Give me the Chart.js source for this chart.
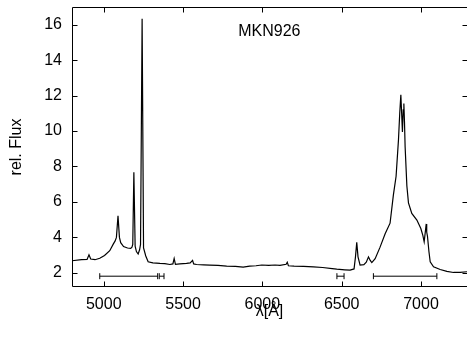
<!DOCTYPE html>
<html>
<head>
<meta charset="utf-8">
<script src="https://cdn.jsdelivr.net/npm/chart.js@4"></script>
<style>
  html, body { margin: 0; padding: 0; background: #fff; overflow: hidden; }
  canvas { display: block; }
</style>
</head>
<body>
<canvas id="spectrum" width="467" height="338"></canvas>
<script>
// MKN926 spectrum

const wavelength = [4800, 4860, 4895, 4907, 4918, 4945, 4975, 5005, 5038, 5060, 5072, 5080, 5090, 5099, 5107,
    5125, 5150, 5170, 5178, 5183, 5190, 5198, 5206, 5217, 5226, 5232, 5242, 5251, 5265, 5280,
    5310, 5354, 5385, 5417, 5436, 5444, 5452, 5480, 5522, 5545, 5560, 5567, 5585, 5630, 5669, 5720, 5775, 5830,
    5879, 5920, 5960, 5996, 6040, 6080, 6111, 6150, 6157, 6164, 6200, 6260, 6322, 6380, 6440, 6469, 6520, 6553,
    6578, 6587, 6595, 6603, 6616, 6640, 6655, 6669, 6680, 6690, 6711, 6742, 6774, 6805, 6826, 6843, 6858, 6866,
    6873, 6878, 6883, 6888, 6892, 6896, 6900, 6911, 6921, 6942, 6974, 6999, 7012, 7020, 7033, 7036, 7041, 7050,
    7058, 7079, 7121, 7163, 7205, 7247, 7290];
const relFlux = [2.68, 2.74, 2.76, 3.02, 2.78, 2.74, 2.82, 2.98, 3.25, 3.62, 3.80, 4.0, 5.22, 4.0, 3.70,
    3.48, 3.40, 3.38, 3.45, 3.6, 7.68, 3.5, 3.2, 3.06, 3.3, 3.6, 16.34, 3.4, 2.95, 2.62,
    2.56, 2.53, 2.52, 2.47, 2.50, 2.81, 2.48, 2.50, 2.53, 2.56, 2.70, 2.50, 2.47, 2.45, 2.44, 2.42, 2.38, 2.36,
    2.32, 2.38, 2.40, 2.44, 2.42, 2.44, 2.42, 2.48, 2.60, 2.40, 2.38, 2.36, 2.34, 2.30, 2.24, 2.21, 2.17, 2.15,
    2.22, 2.9, 3.72, 2.9, 2.44, 2.46, 2.6, 2.90, 2.7, 2.58, 2.80, 3.45, 4.20, 4.80, 6.40, 7.45, 9.5, 11.0,
    12.05, 11.0, 9.95, 11.2, 11.55, 10.5, 9.1, 6.9, 5.95, 5.35, 4.98, 4.50, 4.1, 3.75, 4.76, 4.3, 4.05, 3.2,
    2.62, 2.34, 2.19, 2.08, 2.02, 2.02, 2.06];

// fitting windows drawn as horizontal bars
const rangeStart = [4975, 5350, 6470, 6700];
const rangeEnd = [5340, 5380, 6515, 7100];
const rangeLevel = 1.81;

const xTicks = [5000, 5500, 6000, 6500, 7000];
const yTicks = [2, 4, 6, 8, 10, 12, 14, 16];
const objectName = 'MKN926';
const namePos = { x: 5848, y: 15.6 };

const FONT = '"Liberation Sans", Arial, Helvetica, sans-serif';

const spectrumPoints = wavelength.map((w, i) => ({ x: w, y: relFlux[i] }));
const rangePoints = [];
rangeStart.forEach((s, i) => {
    rangePoints.push({ x: s, y: rangeLevel }, { x: rangeEnd[i], y: rangeLevel }, { x: rangeEnd[i] + 1, y: null });
});

// no extra room for labels, the plot box is fixed
function noPadding(s) {
    s.paddingTop = 0; s.paddingBottom = 0; s.paddingLeft = 0; s.paddingRight = 0;
}

// gnuplot-like frame with inward ticks and the object label
const framePlugin = {
    id: 'frame',
    afterDraw(chart) {
        const { ctx, chartArea: a, scales: { x, y } } = chart;
        const L = Math.round(a.left) + 0.5, T = Math.round(a.top) + 0.5;
        const B = Math.round(a.bottom) - 0.5, R = Math.round(a.right) - 0.5;
        const tick = 5;
        ctx.save();
        ctx.strokeStyle = '#000';
        ctx.lineWidth = 1;
        ctx.beginPath();
        ctx.moveTo(R + 1, T); ctx.lineTo(L, T); ctx.lineTo(L, B); ctx.lineTo(R + 1, B);
        xTicks.forEach(v => {
            const px = Math.round(x.getPixelForValue(v)) + 0.5;
            ctx.moveTo(px, B); ctx.lineTo(px, B - tick);
            ctx.moveTo(px, T); ctx.lineTo(px, T + tick);
        });
        yTicks.forEach(v => {
            const py = Math.round(y.getPixelForValue(v)) + 0.5;
            ctx.moveTo(L, py); ctx.lineTo(L + tick, py);
            ctx.moveTo(R + 1, py); ctx.lineTo(R + 1 - tick, py);
        });
        ctx.stroke();

        ctx.fillStyle = '#000';
        ctx.font = '16px ' + FONT;
        ctx.textAlign = 'left';
        ctx.textBaseline = 'middle';
        ctx.fillText(objectName, x.getPixelForValue(namePos.x), y.getPixelForValue(namePos.y));
        ctx.restore();
    }
};

new Chart(document.getElementById('spectrum'), {
    type: 'line',
    data: {
        datasets: [{
            data: spectrumPoints,
            borderColor: '#000',
            borderWidth: 1.2,
            pointRadius: 0,
            tension: 0
        }, {
            data: rangePoints,
            borderColor: '#000',
            borderWidth: 1,
            pointStyle: 'line',
            rotation: 90,
            pointRadius: 3,
            pointBorderColor: '#000',
            pointBorderWidth: 1,
            spanGaps: false
        }]
    },
    options: {
        responsive: false,
        animation: false,
        layout: { autoPadding: false, padding: { top: 7, right: 0, left: 0, bottom: 0 } },
        plugins: { legend: { display: false }, tooltip: { enabled: false } },
        scales: {
            x: {
                type: 'linear',
                min: 4800,
                max: 7290,
                grid: { display: false, drawTicks: false },
                border: { display: false },
                afterBuildTicks: s => { s.ticks = xTicks.map(v => ({ value: v })); },
                afterFit: s => { s.height = 51; noPadding(s); },
                ticks: {
                    color: '#000', font: { family: FONT, size: 16 }, padding: 8, maxRotation: 0,
                    callback: v => String(v)
                },
                title: { display: true, text: 'λ[Å]', color: '#000', font: { family: FONT, size: 16 }, padding: { bottom: 17 } }
            },
            y: {
                min: 1.2,
                max: 17,
                grid: { display: false, drawTicks: false },
                border: { display: false },
                afterBuildTicks: s => { s.ticks = yTicks.map(v => ({ value: v })); },
                afterFit: s => { s.width = 72; noPadding(s); },
                ticks: { color: '#000', font: { family: FONT, size: 16 }, padding: 10, callback: v => String(v) },
                title: { display: true, text: 'rel. Flux', color: '#000', font: { family: FONT, size: 16 }, padding: { top: 7 } }
            }
        }
    },
    plugins: [framePlugin]
});
</script>
</body>
</html>
